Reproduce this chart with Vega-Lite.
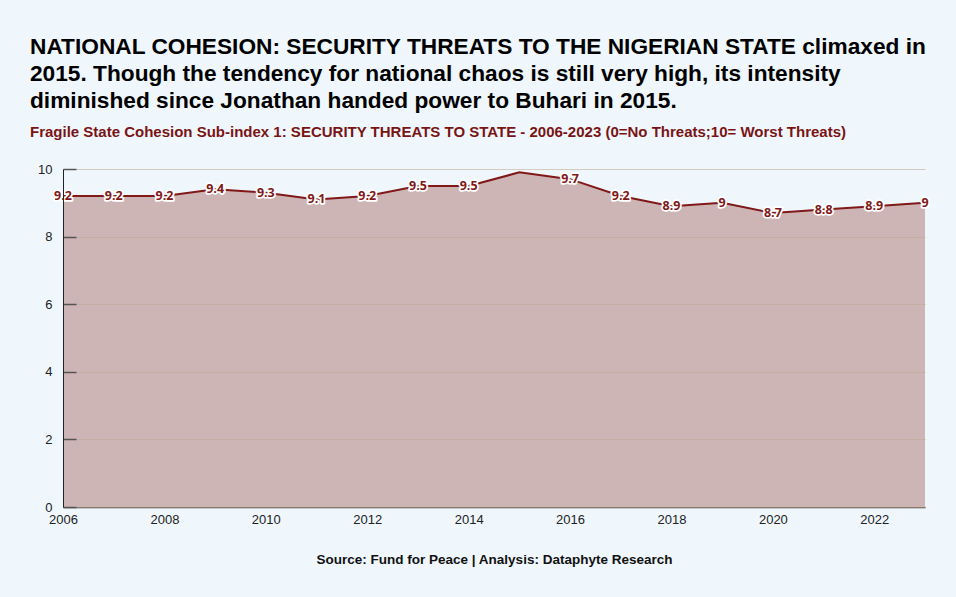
{
  "$schema": "https://vega.github.io/schema/vega-lite/v6.json",
  "width": 862,
  "height": 338,
  "autosize": {"type": "none"},
  "padding": {"left": 63, "top": 169, "right": 31, "bottom": 90},
  "background": "#eff7fd",
  "title": {
    "text": ["NATIONAL COHESION: SECURITY THREATS TO THE NIGERIAN STATE climaxed in", "2015. Though the tendency for national chaos is still very high, its intensity", "diminished since Jonathan handed power to Buhari in 2015."],
    "subtitle": "Fragile State Cohesion Sub-index 1: SECURITY THREATS TO STATE - 2006-2023 (0=No Threats;10= Worst Threats)",
    "anchor": "start",
    "frame": "group",
    "dx": -33,
    "offset": 23,
    "font": "Liberation Sans",
    "fontSize": 22.7,
    "fontWeight": "bold",
    "color": "#000000",
    "lineHeight": 27,
    "subtitleFont": "Liberation Sans",
    "subtitleFontSize": 15,
    "subtitleFontWeight": "bold",
    "subtitleColor": "#7a1414",
    "subtitlePadding": 12
  },
  "config": {
    "view": {"stroke": null},
    "axis": {"labelFont": "Liberation Sans", "labelFontSize": 13, "labelColor": "#222222", "titleFont": "Liberation Sans"}
  },
  "data": {
    "values": [
      {"year": 2006, "value": 9.2, "label": "9.2"},
      {"year": 2007, "value": 9.2, "label": "9.2"},
      {"year": 2008, "value": 9.2, "label": "9.2"},
      {"year": 2009, "value": 9.4, "label": "9.4"},
      {"year": 2010, "value": 9.3, "label": "9.3"},
      {"year": 2011, "value": 9.1, "label": "9.1"},
      {"year": 2012, "value": 9.2, "label": "9.2"},
      {"year": 2013, "value": 9.5, "label": "9.5"},
      {"year": 2014, "value": 9.5, "label": "9.5"},
      {"year": 2015, "value": 9.9, "label": ""},
      {"year": 2016, "value": 9.7, "label": "9.7"},
      {"year": 2017, "value": 9.2, "label": "9.2"},
      {"year": 2018, "value": 8.9, "label": "8.9"},
      {"year": 2019, "value": 9.0, "label": "9"},
      {"year": 2020, "value": 8.7, "label": "8.7"},
      {"year": 2021, "value": 8.8, "label": "8.8"},
      {"year": 2022, "value": 8.9, "label": "8.9"},
      {"year": 2023, "value": 9.0, "label": "9"}
    ]
  },
  "encoding": {
    "x": {
      "field": "year", "type": "quantitative",
      "scale": {"domain": [2006, 2023], "nice": false, "zero": false},
      "axis": {
        "values": [2006, 2008, 2010, 2012, 2014, 2016, 2018, 2020, 2022],
        "format": "d", "grid": false, "ticks": false, "domain": true,
        "labelFlush": false, "labelOverlap": false,
        "domainColor": "#333333", "domainWidth": 1.5, "labelPadding": 6,
        "title": "Source: Fund for Peace | Analysis: Dataphyte Research",
        "titleFontSize": 13.5, "titleFontWeight": "bold", "titleColor": "#111111",
        "titlePadding": 26
      }
    },
    "y": {
      "field": "value", "type": "quantitative",
      "scale": {"domain": [0, 10], "nice": false},
      "axis": {
        "values": [0, 2, 4, 6, 8, 10], "title": null, "labelFlush": false,
        "grid": true, "gridColor": "#c2ab96", "gridOpacity": 0.6,
        "domainColor": "#222222", "tickColor": "#555555", "tickSize": -13, "tickWidth": 1.5,
        "labelPadding": 24, "zindex": 1
      }
    }
  },
  "layer": [
    {"mark": {"type": "area", "color": "#cdb5b5", "opacity": 1}},
    {"mark": {"type": "line", "color": "#801818", "strokeWidth": 2}},
    {
      "mark": {"type": "text", "font": "Open Sans", "fontSize": 12.5, "fontWeight": "bold", "stroke": "#ffffff", "strokeWidth": 3.5, "strokeJoin": "round", "fill": "#ffffff"},
      "encoding": {"text": {"field": "label"}}
    },
    {
      "mark": {"type": "text", "font": "Open Sans", "fontSize": 12.5, "fontWeight": "bold", "fill": "#801818"},
      "encoding": {"text": {"field": "label"}}
    }
  ]
}
